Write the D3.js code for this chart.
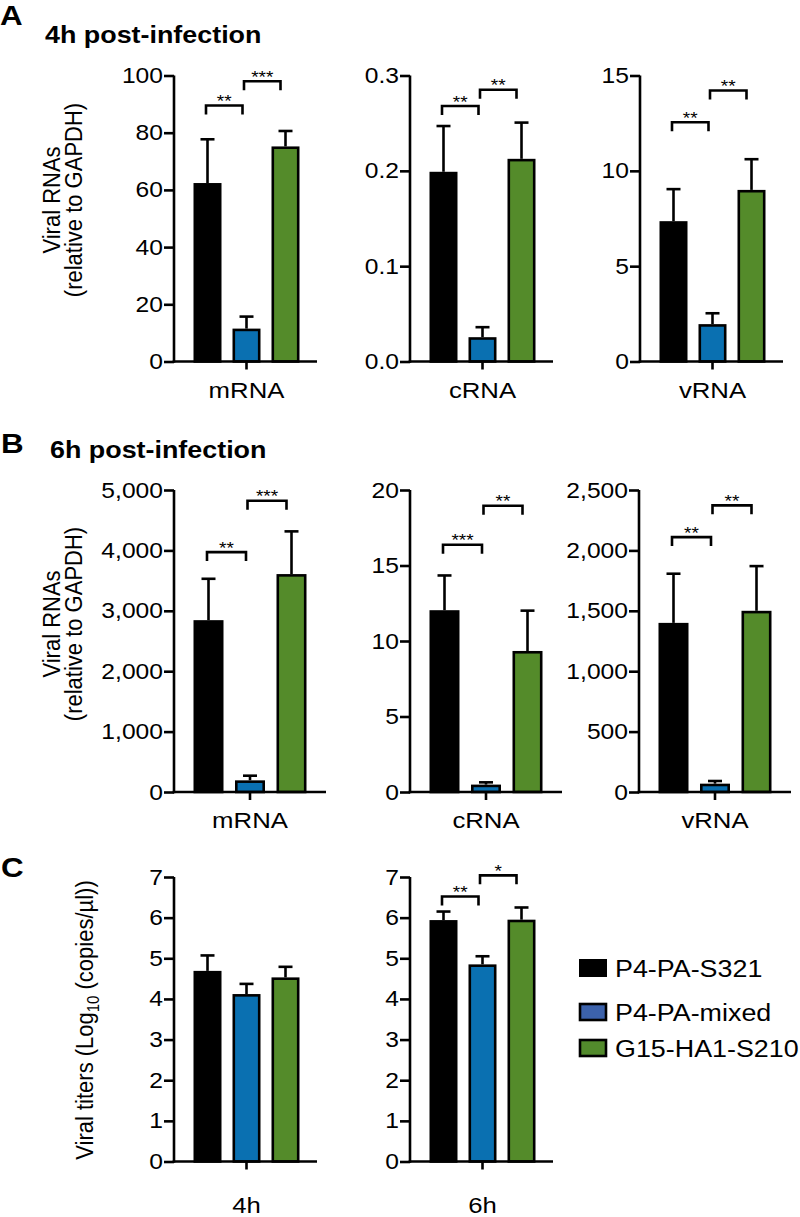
<!DOCTYPE html>
<html>
<head>
<meta charset="utf-8">
<script src="https://cdn.jsdelivr.net/npm/d3@7"></script>
<style>
  html, body { margin: 0; padding: 0; background: #fff; }
  svg { display: block; font-family: "Liberation Sans", Arial, Helvetica, sans-serif; }
</style>
</head>
<body>
<svg id="fig" width="800" height="1217"></svg>
<script>
// ---------------- DATA ----------------
const strains = ["P4-PA-S321", "P4-PA-mixed", "G15-HA1-S210"];
const rnaTypes = ["mRNA", "cRNA", "vRNA"];
const timepoints = ["4h", "6h"];

// Panel A: 4h post-infection (mean, SEM)
const a_mRNA_mean = [62.4, 11.5, 75.2];
const a_mRNA_sem  = [15.3, 4.2, 5.4];
const a_cRNA_mean = [0.199, 0.0255, 0.2126];
const a_cRNA_sem  = [0.048, 0.0105, 0.038];
const a_vRNA_mean = [7.36, 1.96, 9.0];
const a_vRNA_sem  = [1.68, 0.57, 1.61];

// Panel B: 6h post-infection
const b_mRNA_mean = [2845, 193, 3608];
const b_mRNA_sem  = [685, 77, 707];
const b_cRNA_mean = [12.04, 0.49, 9.34];
const b_cRNA_sem  = [2.30, 0.15, 2.67];
const b_vRNA_mean = [1400, 69, 1500];
const b_vRNA_sem  = [407, 22, 370];

// Panel C: viral titers (log10 copies/µl)
const c_4h_mean = [4.69, 4.12, 4.53];
const c_4h_sem  = [0.38, 0.25, 0.26];
const c_6h_mean = [5.94, 4.85, 5.95];
const c_6h_sem  = [0.21, 0.20, 0.30];

// y-axis tick values
const a_mRNA_ticks = [0, 20, 40, 60, 80, 100];
const a_cRNA_ticks = [0, 0.1, 0.2, 0.3];
const a_vRNA_ticks = [0, 5, 10, 15];
const b_mRNA_ticks = [0, 1000, 2000, 3000, 4000, 5000];
const b_cRNA_ticks = [0, 5, 10, 15, 20];
const b_vRNA_ticks = [0, 500, 1000, 1500, 2000, 2500];
const c_ticks = [0, 1, 2, 3, 4, 5, 6, 7];

// significance brackets: [from index, to index, label, bracket height in data units]
const a_mRNA_sig = [[0, 1, "**", 89.5], [1, 2, "***", 98]];
const a_cRNA_sig = [[0, 1, "**", 0.268], [1, 2, "**", 0.285]];
const a_vRNA_sig = [[0, 1, "**", 12.55], [1, 2, "**", 14.21]];
const b_mRNA_sig = [[0, 1, "**", 3972], [1, 2, "***", 4823]];
const b_cRNA_sig = [[0, 1, "***", 16.37], [1, 2, "**", 18.96]];
const b_vRNA_sig = [[0, 1, "**", 2110], [1, 2, "**", 2373]];
const c_4h_sig = [];
const c_6h_sig = [[0, 1, "**", 6.52], [1, 2, "*", 7.04]];

// ---------------- STYLE / LAYOUT ----------------
const barColors = ["#000000", "#0a70b1", "#548b2a"];
const legendColors = ["#000000", "#3c62ab", "#528a2c"];
const LW = 2.6;
const SX = 1.12; // horizontal stretch of lettering seen in the reference

const svg = d3.select("#fig");

function stretch(sel) {
  sel.each(function () {
    const t = d3.select(this);
    const x = +t.attr("x") || 0, y = +t.attr("y") || 0;
    t.attr("x", null).attr("y", null)
      .attr("transform", `translate(${x},${y}) scale(${SX},1)`);
  });
  return sel;
}

function drawChart(o) {
  const g = svg.append("g");
  const y = d3.scaleLinear().domain([0, d3.max(o.ticks)]).range([o.y0, o.yTop]);
  const x = d3.scalePoint().domain(strains)
    .range([o.axisX + o.first, o.axisX + o.first + 2 * o.step]);

  const data = strains.map((s, i) => ({ s, i, m: o.mean[i], e: o.sem[i] }));
  g.selectAll(".err").data(data).join("line")
    .attr("x1", d => x(d.s)).attr("x2", d => x(d.s))
    .attr("y1", d => y(d.m)).attr("y2", d => y(d.m + d.e))
    .attr("stroke", "#000").attr("stroke-width", LW);
  g.selectAll(".cap").data(data).join("line")
    .attr("x1", d => x(d.s) - 7).attr("x2", d => x(d.s) + 7)
    .attr("y1", d => y(d.m + d.e)).attr("y2", d => y(d.m + d.e))
    .attr("stroke", "#000").attr("stroke-width", LW);
  g.selectAll(".bar").data(data).join("rect")
    .attr("x", d => x(d.s) - (o.barW - LW) / 2)
    .attr("width", o.barW - LW)
    .attr("y", d => y(d.m) + LW / 2)
    .attr("height", d => Math.max(0, o.y0 - y(d.m) - LW / 2))
    .attr("fill", d => barColors[d.i])
    .attr("stroke", "#000").attr("stroke-width", LW);

  // y axis
  const ax = d3.axisLeft(y).tickValues(o.ticks).tickSize(10).tickSizeOuter(0)
    .tickPadding(1).tickFormat(o.fmt);
  const ag = g.append("g").attr("transform", `translate(${o.axisX},0)`).call(ax);
  ag.select(".domain").attr("stroke-width", LW).attr("d", `M0,${o.yTop}V${o.y0 + LW / 2}`);
  ag.selectAll(".tick line").attr("stroke-width", LW);
  const tt = ag.selectAll(".tick text").attr("font-size", 22).attr("fill", "#000")
    .attr("font-family", "'Liberation Sans', Arial, sans-serif");
  stretch(tt);

  // x axis line + centre tick
  g.append("line").attr("x1", o.axisX - LW / 2).attr("x2", o.axisX + o.width)
    .attr("y1", o.y0).attr("y2", o.y0).attr("stroke", "#000").attr("stroke-width", LW);
  g.append("line").attr("x1", x(strains[1])).attr("x2", x(strains[1]))
    .attr("y1", o.y0).attr("y2", o.y0 + 8).attr("stroke", "#000").attr("stroke-width", LW);
  stretch(g.append("text").attr("x", x(strains[1])).attr("y", o.labelY)
    .attr("text-anchor", "middle").attr("font-size", 23).text(o.label));

  // significance brackets
  o.sig.forEach(([a, b, lab, h]) => {
    const xa = x(strains[a]) + (a === 0 ? -1.5 : -2.5);
    const xb = x(strains[b]) + (b === 1 ? -4 : -5);
    const yy = y(h);
    g.append("path")
      .attr("d", `M${xa},${yy + 9}V${yy}H${xb}V${yy + 9}`)
      .attr("fill", "none").attr("stroke", "#000").attr("stroke-width", LW);
    stretch(g.append("text").attr("x", (xa + xb) / 2).attr("y", yy + 1.5)
      .attr("text-anchor", "middle").attr("font-size", 17).text(lab));
  });
  return { y, x };
}

const rowA = { y0: 361.5, yTop: 75.5, width: 143, barW: 28, first: 33.5, step: 39, labelY: 398 };
const rowB = { y0: 792, yTop: 490, width: 152, barW: 30, first: 34.5, step: 41.5, labelY: 828 };
const rowC = { y0: 1161.5, yTop: 877, width: 143, barW: 28, first: 33.5, step: 39, labelY: 1213 };

const fmtInt = d3.format("d");
const fmtOne = d3.format(".1f");
const fmtComma = d3.format(",");

drawChart({ ...rowA, axisX: 174, ticks: a_mRNA_ticks, fmt: fmtInt, mean: a_mRNA_mean, sem: a_mRNA_sem, sig: a_mRNA_sig, label: rnaTypes[0] });
drawChart({ ...rowA, axisX: 410, ticks: a_cRNA_ticks, fmt: fmtOne, mean: a_cRNA_mean, sem: a_cRNA_sem, sig: a_cRNA_sig, label: rnaTypes[1] });
drawChart({ ...rowA, axisX: 640, ticks: a_vRNA_ticks, fmt: fmtInt, mean: a_vRNA_mean, sem: a_vRNA_sem, sig: a_vRNA_sig, label: rnaTypes[2] });

drawChart({ ...rowB, axisX: 174, ticks: b_mRNA_ticks, fmt: fmtComma, mean: b_mRNA_mean, sem: b_mRNA_sem, sig: b_mRNA_sig, label: rnaTypes[0] });
drawChart({ ...rowB, axisX: 410, ticks: b_cRNA_ticks, fmt: fmtInt, mean: b_cRNA_mean, sem: b_cRNA_sem, sig: b_cRNA_sig, label: rnaTypes[1] });
drawChart({ ...rowB, axisX: 639, ticks: b_vRNA_ticks, fmt: fmtComma, mean: b_vRNA_mean, sem: b_vRNA_sem, sig: b_vRNA_sig, label: rnaTypes[2] });

drawChart({ ...rowC, axisX: 174, ticks: c_ticks, fmt: fmtInt, mean: c_4h_mean, sem: c_4h_sem, sig: c_4h_sig, label: timepoints[0] });
drawChart({ ...rowC, axisX: 410, ticks: c_ticks, fmt: fmtInt, mean: c_6h_mean, sem: c_6h_sem, sig: c_6h_sig, label: timepoints[1] });

// panel letters and titles
function bold(x, y, size, t) {
  stretch(svg.append("text").attr("x", x).attr("y", y).attr("font-size", size)
    .attr("font-weight", "bold").text(t));
}
bold(0, 25, 28, "A");
bold(45, 43, 24, "4h post-infection");
bold(1, 453, 28, "B");
bold(50, 458, 24, "6h post-infection");
bold(1, 877, 28, "C");

// y-axis titles
function yTitle2(cy) {
  const t = svg.append("text").attr("transform", `translate(60,${cy}) scale(${SX},1) rotate(-90)`)
    .attr("text-anchor", "middle").attr("font-size", 22);
  t.append("tspan").attr("x", 0).attr("y", 0).text("Viral RNAs");
  t.append("tspan").attr("x", 0).attr("y", 19.5).text("(relative to GAPDH)");
}
yTitle2(200);
yTitle2(624);
{
  const t = svg.append("text").attr("transform", `translate(93,1020) scale(${SX},1) rotate(-90)`)
    .attr("text-anchor", "middle").attr("font-size", 22);
  t.append("tspan").text("Viral titers (Log");
  t.append("tspan").attr("font-size", 15).attr("dy", 5).text("10");
  t.append("tspan").attr("dy", -5).text(" (copies/\u00B5l))");
}

// legend
const legY = [968, 1012, 1048];
const lg = svg.append("g");
strains.forEach((s, i) => {
  lg.append("rect").attr("x", 580 + (i ? 0 : -1)).attr("y", legY[i] - 9 + (i ? 1 : 0))
    .attr("width", i ? 26 : 28).attr("height", i ? 16 : 18)
    .attr("fill", legendColors[i]).attr("stroke", i ? "#000" : "none").attr("stroke-width", LW);
  stretch(lg.append("text").attr("x", 615).attr("y", legY[i] + 9).attr("font-size", 24).text(s));
});
</script>
</body>
</html>
